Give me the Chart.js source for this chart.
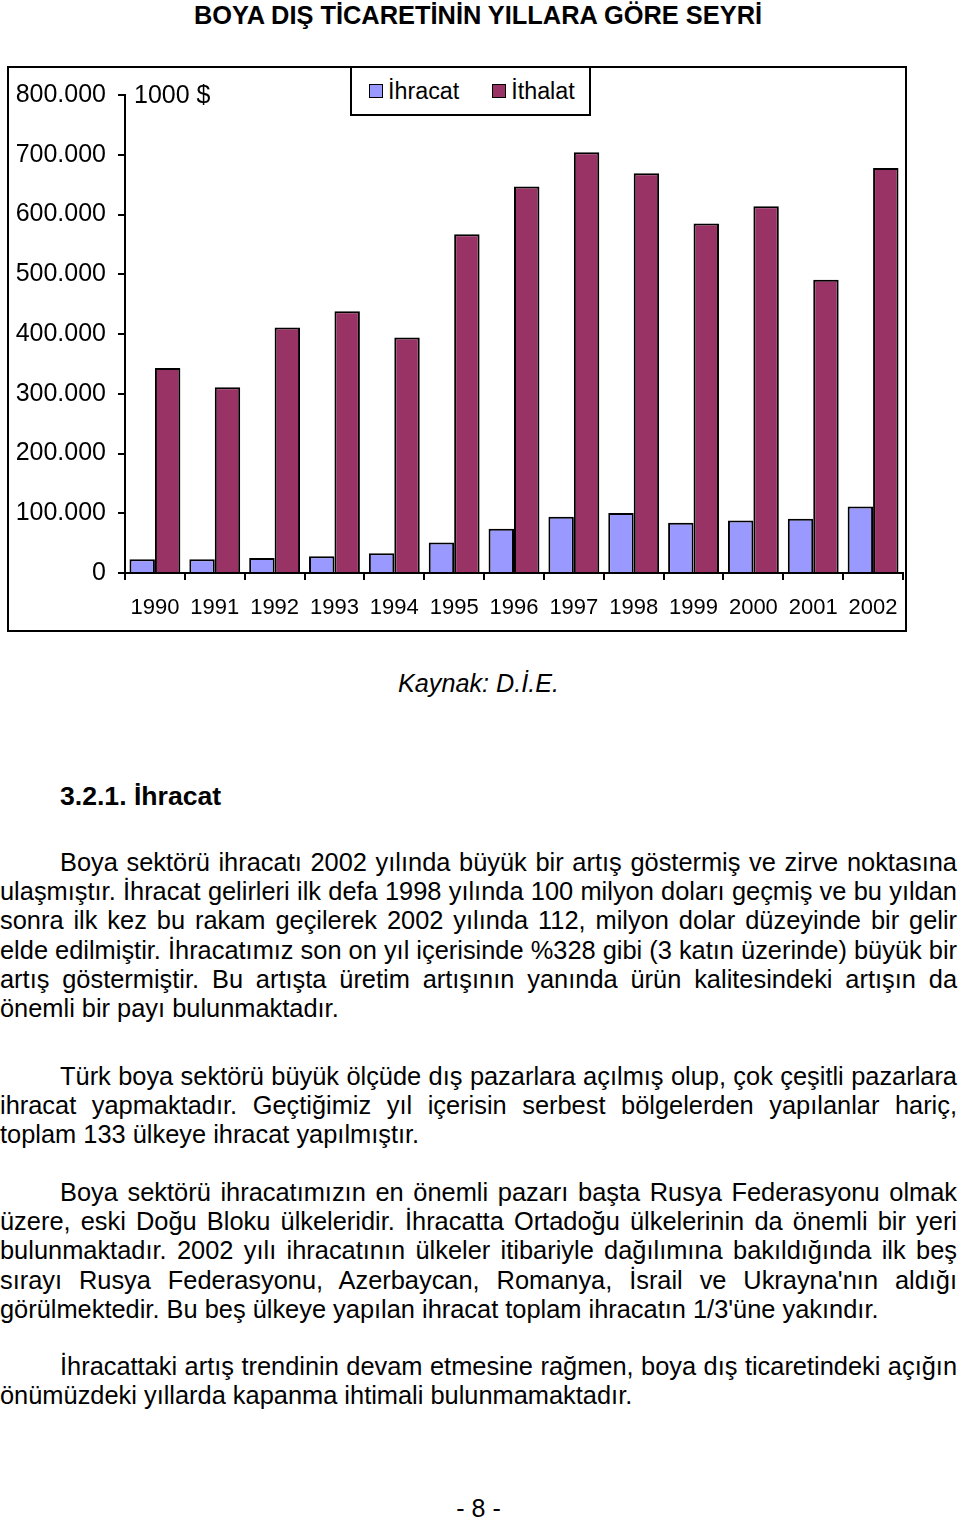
<!DOCTYPE html>
<html lang="tr">
<head>
<meta charset="utf-8">
<script src="https://cdn.jsdelivr.net/npm/chart.js@4/dist/chart.umd.min.js"></script>
<style>
	body { margin: 0; width: 960px; height: 1519px; background: #fff; position: relative; font-family: "Liberation Sans", Arial, sans-serif; color: #000; overflow: hidden; }
	.abs { position: absolute; white-space: nowrap; line-height: 29px; }
	.title { left: 0; width: 956px; top: 1px; text-align: center; font-weight: bold; font-size: 25.4px; }
	#frame { position: absolute; left: 7px; top: 66px; width: 900px; height: 566px; border: 2px solid #000; box-sizing: border-box; }
	#legend { position: absolute; left: 350px; top: 66px; width: 241px; height: 50px; border: 2px solid #000; box-sizing: border-box; background: #fff; font-size: 23.3px; }
	.unit { left: 134px; top: 80px; font-size: 25px; }
	.line { position: absolute; left: 0; width: 957px; font-size: 25.4px; line-height: 29px; white-space: nowrap; }
	.j { text-align: justify; text-align-last: justify; }
</style>
</head>
<body>
<div class="abs title">BOYA DIŞ TİCARETİNİN YILLARA GÖRE SEYRİ</div>

<div id="frame"><canvas id="tradeChart"></canvas></div>
<div class="abs unit">1000 $</div>
<div id="legend"></div>

<div class="abs" style="left:398px; top:669px; font-size:25.2px; font-style:italic;">Kaynak: D.İ.E.</div>
<div class="abs" style="left:60px; top:782px; font-size:26.6px; font-weight:bold;">3.2.1. İhracat</div>

<div id="text"></div>

<div class="abs" style="left:0; width:957px; text-align:center; top:1494px; font-size:25px;">- 8 -</div>

<script>
const years = ["1990", "1991", "1992", "1993", "1994", "1995", "1996", "1997", "1998", "1999", "2000", "2001", "2002"];
const ihracat = [23000, 23000, 25000, 28000, 33000, 51000, 74000, 94000, 100500, 84000, 88000, 91000, 111500];
const ithalat = [343000, 311000, 411000, 438000, 394000, 567000, 647000, 704000, 669000, 585000, 614000, 491000, 678000];
const yTicks = [0, 100000, 200000, 300000, 400000, 500000, 600000, 700000, 800000];
const seriesNames = ["İhracat", "İthalat"];
const seriesColors = ["#9999FF", "#993366"];

const paragraphs = [
	{ top: 848, lines: [
		"Boya sektörü ihracatı 2002 yılında büyük bir artış göstermiş ve zirve noktasına",
		"ulaşmıştır. İhracat gelirleri ilk defa 1998 yılında 100 milyon doları geçmiş ve bu yıldan",
		"sonra ilk kez bu rakam geçilerek 2002 yılında 112, milyon dolar düzeyinde bir gelir",
		"elde edilmiştir. İhracatımız son on yıl içerisinde %328 gibi (3 katın üzerinde) büyük bir",
		"artış göstermiştir. Bu artışta üretim artışının yanında ürün kalitesindeki artışın da",
		"önemli bir payı bulunmaktadır."
	] },
	{ top: 1062, lines: [
		"Türk boya sektörü büyük ölçüde dış pazarlara açılmış olup, çok çeşitli pazarlara",
		"ihracat yapmaktadır. Geçtiğimiz yıl içerisin serbest bölgelerden yapılanlar hariç,",
		"toplam 133 ülkeye ihracat yapılmıştır."
	] },
	{ top: 1178, lines: [
		"Boya sektörü ihracatımızın en önemli pazarı başta Rusya Federasyonu olmak",
		"üzere, eski Doğu Bloku ülkeleridir. İhracatta Ortadoğu ülkelerinin da önemli bir yeri",
		"bulunmaktadır. 2002 yılı ihracatının ülkeler itibariyle dağılımına bakıldığında ilk beş",
		"sırayı Rusya Federasyonu, Azerbaycan, Romanya, İsrail ve Ukrayna'nın aldığı",
		"görülmektedir. Bu beş ülkeye yapılan ihracat toplam ihracatın 1/3'üne yakındır."
	] },
	{ top: 1352, lines: [
		"İhracattaki artış trendinin devam etmesine rağmen, boya dış ticaretindeki açığın",
		"önümüzdeki yıllarda kapanma ihtimali bulunmamaktadır."
	] }
];

// metin satırları
let textHtml = "";
paragraphs.forEach(function (p) {
	p.lines.forEach(function (line, i) {
		const last = i === p.lines.length - 1;
		const indent = i === 0 ? 60 : 0;
		textHtml += '<div class="line' + (last ? "" : " j") + '" style="top:' + (p.top + i * 29.2).toFixed(1) +
			'px;left:' + indent + 'px;width:' + (957 - indent) + 'px;">' + line + "</div>";
	});
});
document.getElementById("text").innerHTML = textHtml;

// lejant
let legendHtml = '<div style="display:flex;align-items:center;height:100%;padding-left:17px;">';
seriesNames.forEach(function (name, i) {
	legendHtml +=
		'<span style="display:inline-block;width:12px;height:12px;border:1.5px solid #000;background:' + seriesColors[i] +
		';margin-right:5px;"></span><span style="margin-right:' + (i === 0 ? 33 : 0) + 'px;">' + name + "</span>";
});
legendHtml += "</div>";
document.getElementById("legend").innerHTML = legendHtml;

function fmt(v) {
	return v === 0 ? "0" : String(v).replace(/\B(?=(\d{3})+(?!\d))/g, ".");
}

const family = "'Liberation Sans', Arial, sans-serif";

new Chart(document.getElementById("tradeChart").getContext("2d"), {
	type: "bar",
	data: {
		labels: years,
		datasets: [
			{ label: seriesNames[0], data: ihracat, backgroundColor: seriesColors[0], borderColor: "#000", borderWidth: 2 },
			{ label: seriesNames[1], data: ithalat, backgroundColor: seriesColors[1], borderColor: "#000", borderWidth: 2 }
		]
	},
	options: {
		responsive: true,
		maintainAspectRatio: false,
		animation: false,
		categoryPercentage: 0.85,
		barPercentage: 1.0,
		layout: { padding: { top: 22, right: 2, left: 0, bottom: 0 } },
		plugins: { legend: { display: false }, title: { display: false }, tooltip: { enabled: false } },
		scales: {
			x: {
				grid: { drawOnChartArea: false, drawTicks: true, tickLength: 7, tickColor: "#000", lineWidth: 2, offset: true },
				border: { display: true, color: "#000", width: 2 },
				ticks: { color: "#000", font: { family: family, size: 22 }, padding: 15, maxRotation: 0, autoSkip: false },
				afterFit: function (scale) {
					scale.height = 57;
					scale.paddingLeft = 0;
					scale.paddingRight = 0;
				}
			},
			y: {
				min: 0,
				max: 800000,
				afterBuildTicks: function (scale) { scale.ticks = yTicks.map(function (v) { return { value: v }; }); },
				grid: { drawOnChartArea: false, drawTicks: true, tickLength: 7, tickColor: "#000", lineWidth: 2 },
				border: { display: true, color: "#000", width: 2 },
				ticks: { color: "#000", font: { family: family, size: 25 }, padding: 12, callback: function (v) { return fmt(v); } },
				afterFit: function (scale) { scale.width = 116; }
			}
		}
	}
});
</script>
</body>
</html>
